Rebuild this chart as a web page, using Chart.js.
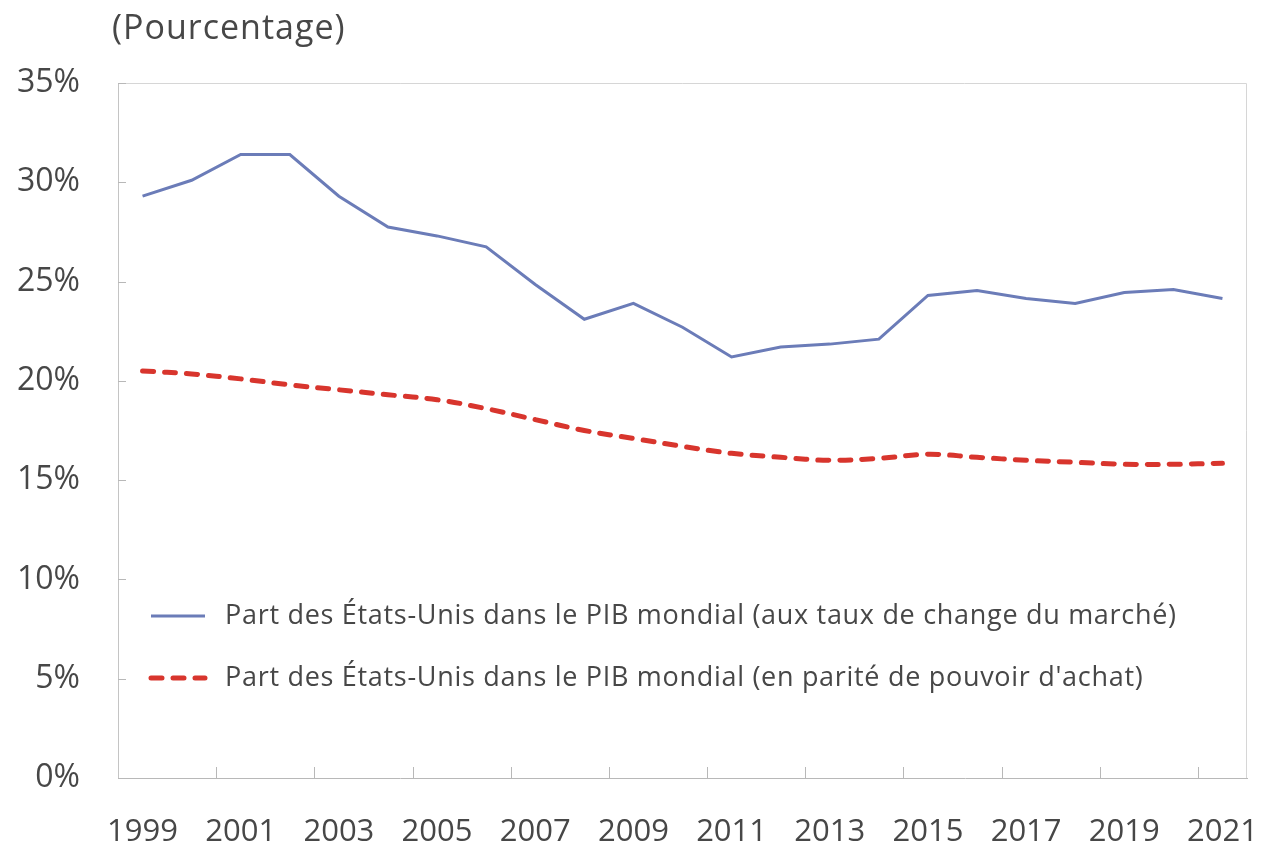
<!DOCTYPE html>
<html>
<head>
<meta charset="utf-8">
<script src="https://cdn.jsdelivr.net/npm/chart.js@4/dist/chart.umd.min.js"></script>
<style>
    html, body { margin: 0; padding: 0; background: #fff; }
    #wrap { width: 1263px; height: 848px; position: relative; }
</style>
</head>
<body>
<div id="wrap"><canvas id="chart"></canvas></div>
<script>
// chart data
const YEARS = [
    '1999', '2000', '2001', '2002', '2003', '2004', '2005', '2006',
    '2007', '2008', '2009', '2010', '2011', '2012', '2013', '2014',
    '2015', '2016', '2017', '2018', '2019', '2020', '2021'
];
// share of world GDP at market exchange rates
const MARKET_SHARE = [
    29.3, 30.1, 31.4, 31.4, 29.3, 27.75, 27.3, 26.75,
    24.85, 23.1, 23.9, 22.7, 21.2, 21.7, 21.85, 22.1,
    24.3, 24.55, 24.15, 23.9, 24.45, 24.6, 24.15
];
// share of world GDP at purchasing power parity
const PPP_SHARE = [
    20.5, 20.35, 20.1, 19.8, 19.55, 19.3, 19.05, 18.6,
    18.05, 17.5, 17.1, 16.7, 16.35, 16.15, 16.0, 16.1,
    16.3, 16.15, 16.0, 15.9, 15.8, 15.8, 15.85
];
const SERIES_LABELS = [
    'Part des États-Unis dans le PIB mondial (aux taux de change du marché)',
    'Part des États-Unis dans le PIB mondial (en parité de pouvoir d\'achat)'
];
const Y_MIN = 0;
const Y_MAX = 35;
const Y_STEP = 5;
const UNIT_LABEL = '(Pourcentage)';

const FONT = '"Open Sans", "Noto Sans", sans-serif';
const TEXT_COLOR = '#474747';

/**
 * Draws the plot frame and the short inward tick marks.
 */
const plotFrame = {
    id: 'plotFrame',
    beforeDatasetsDraw(chart) {
        let ctx = chart.ctx,
            area = chart.chartArea,
            xs = chart.scales.x,
            ys = chart.scales.y;
        ctx.save();
        ctx.lineWidth = 1;
        // top and right border
        ctx.strokeStyle = '#d6d6d6';
        ctx.beginPath();
        ctx.moveTo(area.left, area.top + 0.5);
        ctx.lineTo(area.right - 0.5, area.top + 0.5);
        ctx.lineTo(area.right - 0.5, area.bottom);
        ctx.stroke();

        ctx.strokeStyle = '#b8b8b8';
        // x ticks sit between categories, every second one
        let half = (xs.getPixelForTick(1) - xs.getPixelForTick(0)) / 2;
        ctx.beginPath();
        for (let i = 2; i < xs.ticks.length; i += 2) {
            let x = Math.round(xs.getPixelForTick(i) - half) + 0.5;
            ctx.moveTo(x, area.bottom);
            ctx.lineTo(x, area.bottom - 11);
        }
        // y ticks
        ys.ticks.forEach((t) => {
            let y = Math.round(ys.getPixelForValue(t.value)) + 0.5;
            ctx.moveTo(area.left, y);
            ctx.lineTo(area.left + 8, y);
        });
        ctx.stroke();
        ctx.restore();
    }
};

/**
 * Unit label above the value axis.
 */
const unitLabel = {
    id: 'unitLabel',
    afterDraw(chart) {
        let ctx = chart.ctx;
        ctx.save();
        ctx.font = '34px ' + FONT;
        ctx.letterSpacing = '1px';
        ctx.fillStyle = TEXT_COLOR;
        ctx.textAlign = 'left';
        ctx.textBaseline = 'middle';
        ctx.fillText(UNIT_LABEL, chart.chartArea.left - 6, 29);
        ctx.restore();
    }
};

/**
 * Legend drawn inside the plot area, lower left.
 */
const innerLegend = {
    id: 'innerLegend',
    afterDraw(chart) {
        let ctx = chart.ctx,
            area = chart.chartArea,
            x0 = area.left + 33,
            y0 = area.top + 533;
        ctx.save();
        ctx.font = '27px ' + FONT;
        ctx.letterSpacing = '0.7px';
        ctx.textBaseline = 'middle';
        chart.data.datasets.forEach((ds, i) => {
            let y = y0 + i * 62;
            ctx.beginPath();
            ctx.strokeStyle = ds.borderColor;
            ctx.lineWidth = ds.borderWidth;
            ctx.lineCap = ds.borderCapStyle || 'butt';
            ctx.setLineDash(ds.borderDash || []);
            ctx.moveTo(x0, y);
            ctx.lineTo(x0 + 54, y);
            ctx.stroke();
            ctx.setLineDash([]);
            ctx.fillStyle = TEXT_COLOR;
            ctx.fillText(ds.label, x0 + 74, y);
        });
        ctx.restore();
    }
};

new Chart(document.getElementById('chart'), {
    type: 'line',
    data: {
        labels: YEARS,
        datasets: [{
            label: SERIES_LABELS[0],
            data: MARKET_SHARE,
            borderColor: '#6b7cb8',
            borderWidth: 3,
            tension: 0,
            pointRadius: 0
        }, {
            label: SERIES_LABELS[1],
            data: PPP_SHARE,
            borderColor: '#d8352d',
            borderWidth: 5,
            borderDash: [11, 11],
            borderCapStyle: 'round',
            tension: 0.4,
            pointRadius: 0
        }]
    },
    options: {
        responsive: true,
        maintainAspectRatio: false,
        animation: false,
        devicePixelRatio: 1,
        layout: {
            padding: { top: 83, right: 16, bottom: 0, left: 0 }
        },
        plugins: {
            legend: { display: false },
            tooltip: { enabled: false },
            title: { display: false }
        },
        scales: {
            x: {
                offset: true,
                grid: { display: false },
                border: { display: true, color: '#b8b8b8', width: 1 },
                ticks: {
                    autoSkip: false,
                    maxRotation: 0,
                    padding: 28,
                    color: TEXT_COLOR,
                    font: { family: FONT, size: 31 },
                    callback: function (value, index) {
                        return index % 2 === 0 ? this.getLabelForValue(value) : '';
                    }
                },
                afterFit(scale) {
                    scale.height = 70;
                    // labels may overhang, the plot area should not shrink
                    scale.paddingLeft = 0;
                    scale.paddingRight = 0;
                }
            },
            y: {
                min: Y_MIN,
                max: Y_MAX,
                grid: { display: false },
                border: { display: true, color: '#c4c4c4', width: 1 },
                ticks: {
                    stepSize: Y_STEP,
                    padding: 30,
                    color: TEXT_COLOR,
                    font: { family: FONT, size: 32 },
                    callback: (v) => v + '%'
                },
                afterFit(scale) {
                    scale.width = 118;
                }
            }
        }
    },
    plugins: [plotFrame, unitLabel, innerLegend]
});
</script>
</body>
</html>
